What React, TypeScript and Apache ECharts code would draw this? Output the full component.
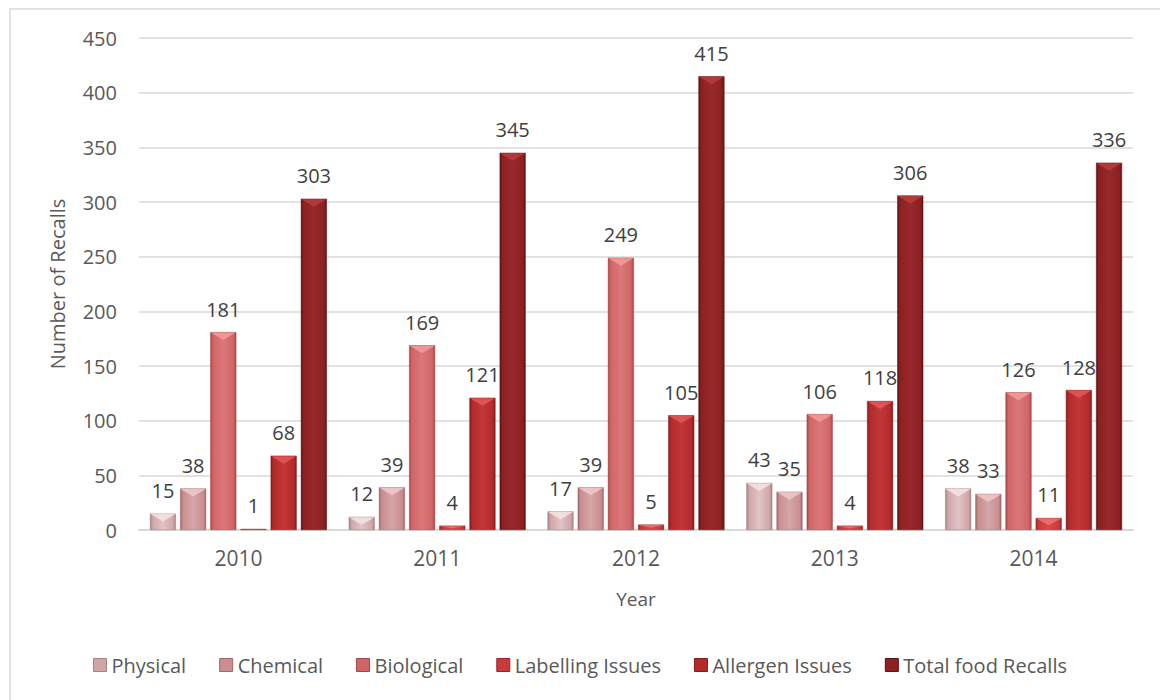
import React, { useEffect, useRef } from "react";
import * as echarts from "echarts";

const years = ["2010", "2011", "2012", "2013", "2014"];
const seriesNames = [
  "Physical",
  "Chemical",
  "Biological",
  "Labelling Issues",
  "Allergen Issues",
  "Total food Recalls",
];
const physical = [15, 12, 17, 43, 38];
const chemical = [38, 39, 39, 35, 33];
const biological = [181, 169, 249, 106, 126];
const labelling = [1, 4, 5, 4, 11];
const allergen = [68, 121, 105, 118, 128];
const totalRecalls = [303, 345, 415, 306, 336];
const yTicks = { min: 0, max: 450, interval: 50 };

const seriesValues = [physical, chemical, biological, labelling, allergen, totalRecalls];
// base, edge (darker), highlight and cap colours for the bevelled bars
const palette = [
  { base: "#cfa6a8", edge: "#a98183", hi: "#e2c4c5", cap: "#f3e2e2" },
  { base: "#c98e90", edge: "#a26668", hi: "#d6a6a8", cap: "#ecc8c9" },
  { base: "#d06566", edge: "#a84445", hi: "#dc7778", cap: "#f09a9a" },
  { base: "#c83a3b", edge: "#9c2223", hi: "#d44a4b", cap: "#ee6f70" },
  { base: "#b42a2b", edge: "#861a1b", hi: "#c23637", cap: "#e05556" },
  { base: "#8c2122", edge: "#5e1213", hi: "#982829", cap: "#b63c3d" },
];

const BAR_GAP = 0.16;
const CATEGORY_GAP = 0.11;

const FONT = "'Open Sans', 'Liberation Sans', sans-serif";

// flattened [categoryIndex, value, seriesIndex] records for the bevel caps
const capData: number[][] = [];
seriesValues.forEach((vals, s) => vals.forEach((v, c) => capData.push([c, v, s])));

export default function App() {
  const ref = useRef<HTMLDivElement>(null);

  useEffect(() => {
    if (!ref.current) return;
    const chart = echarts.init(ref.current, undefined, { renderer: "svg" });

    const barSeries = seriesValues.map((vals, i) => {
      const c = palette[i];
      return {
        name: seriesNames[i],
        type: "bar",
        data: vals,
        barGap: `${BAR_GAP * 100}%`,
        barCategoryGap: `${CATEGORY_GAP * 100}%`,
        itemStyle: {
          color: new echarts.graphic.LinearGradient(0, 0, 1, 0, [
            { offset: 0, color: c.edge },
            { offset: 0.1, color: c.base },
            { offset: 0.5, color: c.hi },
            { offset: 0.9, color: c.base },
            { offset: 1, color: c.edge },
          ]),
          borderColor: c.edge,
          borderWidth: 0.5,
        },
        label: {
          show: true,
          position: "top",
          distance: 13,
          color: "#404040",
          fontSize: 20,
          fontFamily: FONT,
        },
      };
    });

    // light triangular cap on top of each bar, placed with the same layout rules as the bars
    const capSeries = {
      type: "custom",
      silent: true,
      z: 3,
      data: capData,
      encode: { x: 0, y: 1 },
      renderItem: (_params: any, api: any) => {
        const cat = api.value(0);
        const val = api.value(1);
        const s = api.value(2);
        const n = seriesValues.length;
        const band = api.size([1, 0])[0];
        const avail = band * (1 - CATEGORY_GAP);
        const bw = avail / (n + (n - 1) * BAR_GAP);
        const gap = bw * BAR_GAP;
        const center = api.coord([cat, 0]);
        const base = center[1];
        const top = api.coord([cat, val])[1];
        const x0 = center[0] - avail / 2 + s * (bw + gap);
        const h = Math.min(8, (base - top) * 0.6);
        if (h <= 0.5) return null;
        return {
          type: "polygon",
          shape: {
            points: [
              [x0 + 0.5, top + 0.5],
              [x0 + bw - 0.5, top + 0.5],
              [x0 + bw / 2, top + h],
            ],
          },
          style: { fill: palette[s].cap, opacity: 0.9 },
        };
      },
    };

    chart.setOption({
      animation: false,
      backgroundColor: "#ffffff",
      textStyle: { fontFamily: FONT },
      grid: { left: 139, right: 27, top: 38, bottom: 170 },
      legend: {
        data: seriesNames.map((n, i) => ({
          name: n,
          itemStyle: { color: palette[i].base, borderColor: palette[i].edge, borderWidth: 1 },
        })),
        bottom: 20,
        left: "center",
        icon: "rect",
        itemWidth: 13,
        itemHeight: 13,
        itemGap: 33,
        textStyle: { color: "#595959", fontSize: 20, fontFamily: FONT },
      },
      xAxis: {
        type: "category",
        data: years,
        name: "Year",
        nameLocation: "middle",
        nameGap: 59,
        nameTextStyle: { color: "#595959", fontSize: 19, fontFamily: FONT },
        axisLine: { lineStyle: { color: "#d9d9d9", width: 2 } },
        axisTick: { show: false },
        axisLabel: { color: "#595959", fontSize: 21, margin: 17, fontFamily: FONT },
      },
      yAxis: {
        type: "value",
        min: yTicks.min,
        max: yTicks.max,
        interval: yTicks.interval,
        name: "Number of Recalls",
        nameLocation: "middle",
        nameGap: 72,
        nameTextStyle: { color: "#595959", fontSize: 20, fontFamily: FONT },
        axisLine: { show: false },
        axisTick: { show: false },
        axisLabel: { color: "#595959", fontSize: 20, margin: 22, fontFamily: FONT },
        splitLine: { lineStyle: { color: "#d9d9d9", width: 1.5 } },
      },
      graphic: [
        {
          type: "rect",
          silent: true,
          z: -10,
          shape: { x: 10, y: 9, width: 1170, height: 720 },
          style: { fill: "none", stroke: "#d9d9d9", lineWidth: 1.5 },
        },
      ],
      series: [...barSeries, capSeries],
    });

    return () => chart.dispose();
  }, []);

  return (
    <div
      ref={ref}
      style={{ position: "absolute", left: 0, top: 0, width: 1160, height: 700 }}
    />
  );
}
